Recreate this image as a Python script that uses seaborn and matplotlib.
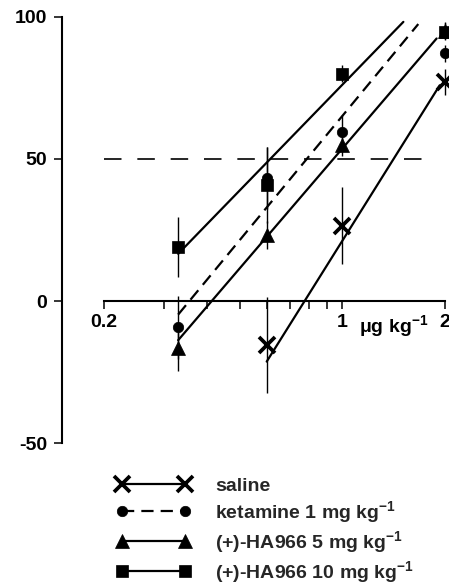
import numpy as np
import pandas as pd
import matplotlib
matplotlib.use("Agg")
import matplotlib.pyplot as plt
import seaborn as sns
from matplotlib.lines import Line2D
from matplotlib.ticker import FixedLocator, NullFormatter

# ---------------- data ----------------
groups = ["saline", "ketamine", "HA5", "HA10"]
legend_labels = ["saline", "ketamine 1 mg kg$^{-1}$",
                 "(+)-HA966 5 mg kg$^{-1}$", "(+)-HA966 10 mg kg$^{-1}$"]

saline_dose = [0.6, 1, 2]
saline_mean = [-15.5, 26.5, 77]
saline_err = [17, 13.5, 4.5]

ket_dose = [0.33, 0.6, 1, 2]
ket_mean = [-9.3, 43.2, 59.6, 87.1]
ket_err = [11, 11, 6, 3]

ha5_dose = [0.33, 0.6, 1, 2]
ha5_mean = [-16.6, 23.2, 54.9, 95]
ha5_err = [8, 5, 4, 3]

ha10_dose = [0.33, 0.6, 1, 2]
ha10_mean = [19, 40.8, 80, 94.7]
ha10_err = [10.5, 13.5, 3, 3]

# fitted log-dose response lines: slope per log10 unit, ED50, dose range
fit_slope = [191.5, 145.1, 140.0, 123.5]
fit_ed50 = [1.414, 0.787, 0.942, 0.615]
fit_lo = [0.6, 0.33, 0.33, 0.33]
fit_hi = [1.93, 1.67, 1.89, 1.51]

ref_level = 50
ref_span = [0.2, 1.8]

x_ticks = [0.2, 1, 2]
x_ticklabels = ["0.2", "1", "2"]
x_minor = [0.3, 0.4, 0.5, 0.6, 0.7, 0.8, 0.9]
x_unit = "μg kg$^{-1}$"
y_ticks = [-50, 0, 50, 100]
y_ticklabels = ["-50", "0", "50", "100"]

# ---------------- style ----------------
sns.set_theme(style="ticks")
plt.rcParams["font.family"] = ["Liberation Sans", "DejaVu Sans"]
plt.rcParams["font.weight"] = "bold"
plt.rcParams["mathtext.fontset"] = "custom"
plt.rcParams["mathtext.rm"] = "Liberation Sans:bold"
plt.rcParams["mathtext.it"] = "Liberation Sans:bold"
plt.rcParams["mathtext.bf"] = "Liberation Sans:bold"
plt.rcParams["mathtext.default"] = "bf"

FS = 14
W, H = 449, 585
fig = plt.figure(figsize=(W / 100, H / 100), dpi=100)
ax = fig.add_axes([62 / W, (H - 443.2) / H, 387 / W, 426.5 / H])
ax.set_xscale("log")

markers = {"saline": "x", "ketamine": "o", "HA5": "^", "HA10": "s"}
msizes = {"saline": 11, "ketamine": 7.5, "HA5": 9.5, "HA10": 9.0}
mews = {"saline": 2.7, "ketamine": 0.5, "HA5": 0.5, "HA10": 0.5}
dash_map = {"saline": "", "ketamine": (5.5, 3.2), "HA5": "", "HA10": ""}

# fitted lines
rows = []
for g, s, e, lo, hi in zip(groups, fit_slope, fit_ed50, fit_lo, fit_hi):
    xs = np.geomspace(lo, hi, 20)
    ys = ref_level + s * (np.log10(xs) - np.log10(e))
    for xv, yv in zip(xs, ys):
        rows.append({"group": g, "dose": xv, "resp": yv})
fit_df = pd.DataFrame(rows)
sns.lineplot(data=fit_df, x="dose", y="resp", hue="group", style="group",
             palette={g: "black" for g in groups}, dashes=dash_map,
             linewidth=1.6, legend=False, ax=ax, estimator=None, sort=False)

# reference line at 50 %
ax.hlines(ref_level, ref_span[0], ref_span[1], colors="black", linewidth=1.2,
          linestyles=[(0, (10.5, 9.5))])

# data points with error bars
series = {
    "saline": (saline_dose, saline_mean, saline_err),
    "ketamine": (ket_dose, ket_mean, ket_err),
    "HA5": (ha5_dose, ha5_mean, ha5_err),
    "HA10": (ha10_dose, ha10_mean, ha10_err),
}
for g in groups:
    d, m, e = series[g]
    ax.errorbar(d, m, yerr=e, fmt="none", ecolor="black", elinewidth=1.0,
                capsize=0, zorder=3)
for g in groups:
    d, m, e = series[g]
    ax.plot(d, m, linestyle="none", marker=markers[g], ms=msizes[g],
            color="black", mec="black", mew=mews[g], zorder=4, clip_on=False)

# axes
ax.set_xlim(0.1506, 2.055)
ax.set_ylim(-50, 100)
ax.xaxis.set_major_locator(FixedLocator(x_ticks))
ax.set_xticklabels(x_ticklabels)
ax.xaxis.set_minor_locator(FixedLocator(x_minor))
ax.xaxis.set_minor_formatter(NullFormatter())
ax.set_yticks(y_ticks)
ax.set_yticklabels(y_ticklabels)
ax.set_xlabel("")
ax.set_ylabel("")

for side in ["top", "right"]:
    ax.spines[side].set_visible(False)
ax.spines["left"].set_bounds(-50, 100)
ax.spines["left"].set_linewidth(1.5)
ax.spines["left"].set_color("black")
ax.spines["bottom"].set_position(("data", 0))
ax.spines["bottom"].set_bounds(0.2, 2)
ax.spines["bottom"].set_linewidth(1.5)
ax.spines["bottom"].set_color("black")

ax.tick_params(axis="both", which="both", direction="out", length=5.5,
               width=1.1, color="black", labelcolor="black", labelsize=FS)
ax.tick_params(axis="y", pad=5.0)
ax.tick_params(axis="x", pad=4.0)
for lab in ax.get_xticklabels() + ax.get_yticklabels():
    lab.set_fontweight("bold")

ax.annotate(x_unit, xy=(1, 0), xycoords="data", xytext=(12, -9.0),
            textcoords="offset points", ha="left", va="top", fontsize=FS,
            fontweight="bold", color="black")

# legend
handles = []
for g in groups:
    ls = "--" if g == "ketamine" else "-"
    h = Line2D([], [], color="black", lw=1.6, linestyle=ls,
               marker=markers[g], ms=msizes[g], mew=mews[g], mec="black")
    if g == "ketamine":
        h.set_dashes(dash_map[g])
    handles.append(h)
fig.legend(handles, legend_labels, loc="upper left",
           bbox_to_anchor=(116.2 / W, (H - 477) / H), frameon=False,
           borderpad=0, borderaxespad=0, numpoints=2, handlelength=3.82,
           handletextpad=1.27, labelspacing=0.22,
           prop={"size": FS, "weight": "bold"})

fig.savefig("out.png", dpi=100)
